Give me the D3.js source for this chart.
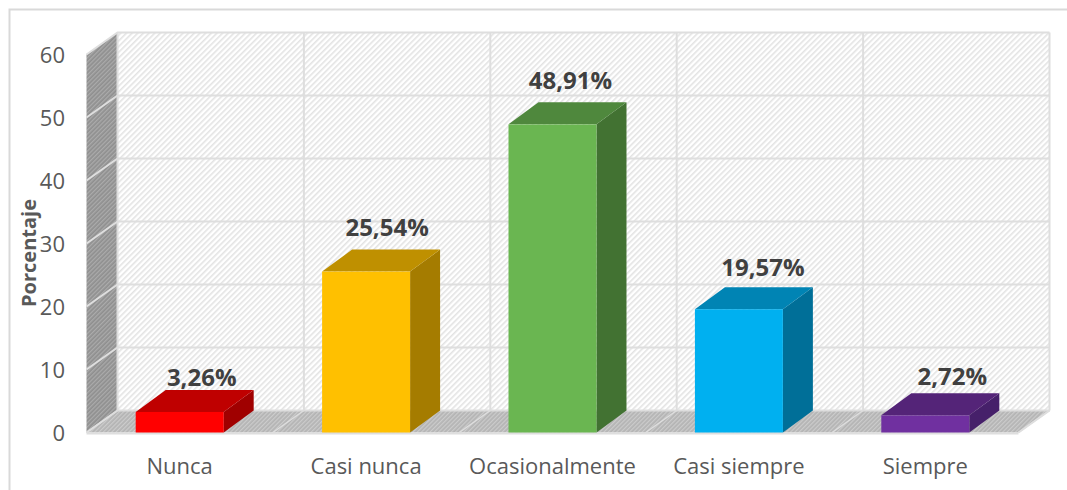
<!DOCTYPE html>
<html><head><meta charset="utf-8">
<script src="https://cdn.jsdelivr.net/npm/d3@7"></script>
<style>html,body{margin:0;padding:0;background:#fff;overflow:hidden}svg{display:block}text{font-family:"Open Sans",sans-serif}</style>
</head><body><div id="c"></div>
<script>
const categories = ["Nunca","Casi nunca","Ocasionalmente","Casi siempre","Siempre"];
const values = [3.26,25.54,48.91,19.57,2.72];
const valueLabels = ["3,26%","25,54%","48,91%","19,57%","2,72%"];
const yTicks = [0,10,20,30,40,50,60];
const frontColors = ["#ff0000","#ffc000","#6ab651","#00b0f0","#7030a0"];
const topColors = ["#bf0000","#bf9000","#4f883d","#0084b4","#542478"];
const sideColors = ["#a00000","#a57c00","#427232","#006f98","#46206a"];

const W=1067,H=490, dx=31, dy=-22;
const x=d3.scaleBand().domain(categories).range([86.5,1018.5]).paddingInner(0.528).paddingOuter(0.264);
const y=d3.scaleLinear().domain([0,60]).range([432.5,54.5]);
const svg=d3.select("#c").append("svg").attr("width",W).attr("height",H);
const defs=svg.append("defs");
function hatch(id,bg,fg,size,sw){
  const p=defs.append("pattern").attr("id",id).attr("patternUnits","userSpaceOnUse")
    .attr("width",size).attr("height",size).attr("patternTransform","rotate(45)");
  p.append("rect").attr("width",size).attr("height",size).attr("fill",bg);
  p.append("rect").attr("width",sw).attr("height",size).attr("fill",fg);
}
hatch("wall","#ffffff","#e3e3e3",4,1.6);
hatch("side","#8f8f8f","#ababab",3,1.3);
hatch("floor","#b4b4b4","#cccccc",3,1.2);

const poly=pts=>pts.map(p=>p.join(",")).join(" ");
const grid="#dedede";
// frame: its right and bottom edges run off the picture
svg.append("rect").attr("x",9.5).attr("y",9.5).attr("width",1100).attr("height",540).attr("fill","#fff").attr("stroke","#d9d9d9").attr("stroke-width",2);

const x0=x.range()[0],x1=x.range()[1],y0=y(0),yT=y(60);
svg.append("rect").attr("x",x0+dx).attr("y",yT+dy).attr("width",x1-x0).attr("height",y0-yT).attr("fill","url(#wall)");
svg.append("polygon").attr("points",poly([[x0,yT],[x0+dx,yT+dy],[x0+dx,y0+dy],[x0,y0]])).attr("fill","url(#side)");
svg.append("polygon").attr("points",poly([[x0,y0],[x1,y0],[x1+dx,y0+dy],[x0+dx,y0+dy]])).attr("fill","url(#floor)");
const step=x.step();
const gridX=d3.range(categories.length+1).map(i=>x0+i*step);
svg.selectAll(".gh").data(yTicks).join("polyline").attr("fill","none").attr("stroke",grid).attr("stroke-width",2)
  .attr("points",d=>poly([[x0,y(d)],[x0+dx,y(d)+dy],[x1+dx,y(d)+dy]]));
svg.selectAll(".gv").data(gridX).join("line").attr("stroke",grid).attr("stroke-width",2)
  .attr("x1",d=>d+dx).attr("x2",d=>d+dx).attr("y1",yT+dy).attr("y2",y0+dy);
svg.selectAll(".gf").data(gridX).join("line").attr("stroke",grid).attr("stroke-width",1.5)
  .attr("x1",d=>d).attr("x2",d=>d+dx).attr("y1",y0).attr("y2",y0+dy);
svg.append("line").attr("x1",x0).attr("x2",x1).attr("y1",y0+1).attr("y2",y0+1).attr("stroke",grid).attr("stroke-width",2);
svg.append("line").attr("x1",x1).attr("x2",x1+dx).attr("y1",y0).attr("y2",y0+dy).attr("stroke",grid).attr("stroke-width",2);
const g=svg.selectAll(".bar").data(categories).join("g");
g.append("polygon").attr("fill",(d,i)=>sideColors[i]).attr("points",(d,i)=>{const r=x(d)+x.bandwidth(),t=y(values[i]);return poly([[r,t],[r+dx-1,t+dy],[r+dx-1,y0+dy],[r,y0]]);});
g.append("polygon").attr("fill",(d,i)=>topColors[i]).attr("points",(d,i)=>{const l=x(d),r=l+x.bandwidth(),t=y(values[i]);return poly([[l,t],[l+dx-1,t+dy],[r+dx-1,t+dy],[r,t]]);});
g.append("rect").attr("fill",(d,i)=>frontColors[i]).attr("x",d=>x(d)).attr("width",x.bandwidth()).attr("y",(d,i)=>y(values[i])).attr("height",(d,i)=>y0-y(values[i]));
// hand-placed value labels, nudged from the bar-top anchor as in the reference
const nudgeX=[22,21,18,24,27], nudgeY=[-4,-14,-13,-11,-8];
g.append("text").attr("x",(d,i)=>x(d)+x.bandwidth()/2+nudgeX[i]).attr("y",(d,i)=>y(values[i])+dy+nudgeY[i]).attr("text-anchor","middle")
  .attr("font-size",24).attr("font-weight",700).attr("fill","#404040").text((d,i)=>valueLabels[i]);
g.append("text").attr("x",d=>x(d)+x.bandwidth()/2).attr("y",474).attr("text-anchor","middle")
  .attr("font-size",22).attr("fill","#595959").text(d=>d);
svg.selectAll(".yl").data(yTicks).join("text").attr("x",65).attr("y",d=>y(d)+8.5).attr("text-anchor","end")
  .attr("font-size",22).attr("fill","#595959").text(d=>d);
svg.append("text").attr("transform","translate(36,253) rotate(-90)").attr("text-anchor","middle")
  .attr("font-size",20).attr("font-weight",700).attr("fill","#595959").text("Porcentaje");
</script></body></html>
